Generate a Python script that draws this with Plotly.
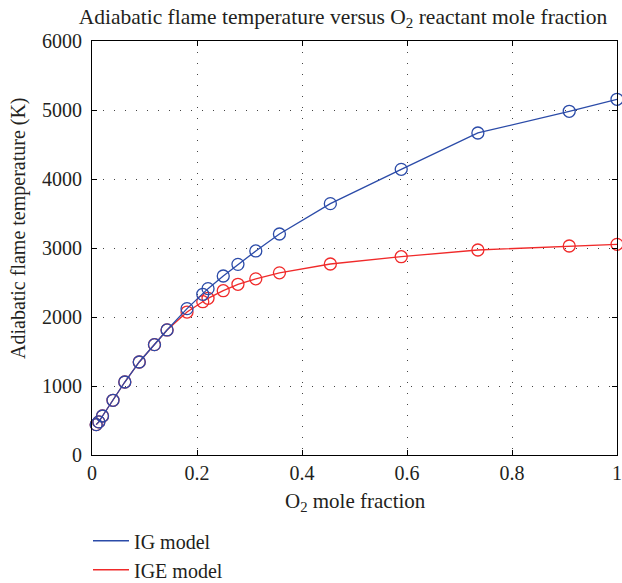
import plotly.graph_objects as go

# O2 mole fraction
x_frac = [0.008, 0.013, 0.02, 0.04, 0.0625, 0.09, 0.119, 0.143, 0.181, 0.211, 0.221,
          0.25, 0.278, 0.312, 0.357, 0.454, 0.589, 0.735, 0.909, 1.0]
# Adiabatic flame temperature (K)
ig_model = [440, 480, 565, 793, 1058, 1348, 1599, 1812, 2121, 2329, 2411,
            2594, 2763, 2957, 3203, 3643, 4140, 4667, 4981, 5155]
ige_model = [440, 480, 565, 793, 1058, 1348, 1599, 1812, 2072, 2222, 2271,
             2381, 2474, 2553, 2640, 2768, 2874, 2971, 3029, 3053]

x_ticks = [0, 0.2, 0.4, 0.6, 0.8, 1]
x_ticklabels = ["0", "0.2", "0.4", "0.6", "0.8", "1"]
y_ticks = [0, 1000, 2000, 3000, 4000, 5000, 6000]

BLUE = "#2b4ba8"
RED = "#f02a2a"
FONT = "Liberation Serif"
TXT = "#231f20"
FS = 20

fig = go.Figure()
fig.add_trace(go.Scatter(x=x_frac, y=ige_model, mode="lines+markers",
                         line=dict(color=RED, width=1.3),
                         marker=dict(symbol="circle-open", size=12, color=RED,
                                     line=dict(width=1.3, color=RED)),
                         showlegend=False, cliponaxis=False))
fig.add_trace(go.Scatter(x=x_frac, y=ig_model, mode="lines+markers",
                         line=dict(color=BLUE, width=1.3),
                         marker=dict(symbol="circle-open", size=12, color=BLUE,
                                     line=dict(width=1.3, color=BLUE)),
                         showlegend=False, cliponaxis=False))
# legend entries (lines only, as in the reference)
fig.add_trace(go.Scatter(x=[None], y=[None], mode="lines", name="IG model",
                         line=dict(color=BLUE, width=1.3)))
fig.add_trace(go.Scatter(x=[None], y=[None], mode="lines", name="IGE model",
                         line=dict(color=RED, width=1.3)))

axis_common = dict(
    showline=True, linecolor="black", linewidth=1, mirror="ticks",
    ticks="inside", ticklen=5, tickcolor="black", automargin=False,
    showgrid=True, gridcolor="#444444", gridwidth=1, griddash="1px,10px",
    zeroline=False, tickfont=dict(family=FONT, size=FS, color=TXT),
)

fig.update_xaxes(range=[0, 1], tickvals=x_ticks, ticktext=x_ticklabels,
                 ticklabelstandoff=0, **axis_common)
fig.update_yaxes(range=[0, 6000], tickvals=y_ticks,
                 ticklabelstandoff=5, **axis_common)

fig.update_layout(
    width=622, height=583,
    margin=dict(l=92, r=5, t=41, b=128, autoexpand=False),
    paper_bgcolor="white", plot_bgcolor="white",
    title=dict(text="Adiabatic flame temperature versus O<sub>2</sub> reactant mole fraction",
               font=dict(family=FONT, size=21.5, color=TXT),
               x=343 / 622, xanchor="center", xref="container",
               y=1 - 16 / 583, yanchor="middle", yref="container"),
    legend=dict(x=-4 / 525, y=-0.16, xanchor="left", yanchor="top",
                font=dict(family=FONT, size=FS, color=TXT), itemwidth=36,
                bgcolor="rgba(0,0,0,0)", tracegroupgap=0),
    showlegend=True,
    annotations=[
        dict(text="O<sub>2</sub> mole fraction", xref="paper", yref="paper",
             x=(355 - 92) / 525, y=-(502 - 455) / 414, xanchor="center", yanchor="middle",
             showarrow=False, font=dict(family=FONT, size=21, color=TXT)),
        dict(text="Adiabatic flame temperature (K)", xref="paper", yref="paper",
             x=-(92 - 18) / 525, y=(455 - 228) / 414, xanchor="center", yanchor="middle",
             textangle=-90, showarrow=False, font=dict(family=FONT, size=FS, color=TXT)),
    ],
)

fig.write_html("out.html", config={"displayModeBar": False},
               post_script="document.body.style.margin='0';")
